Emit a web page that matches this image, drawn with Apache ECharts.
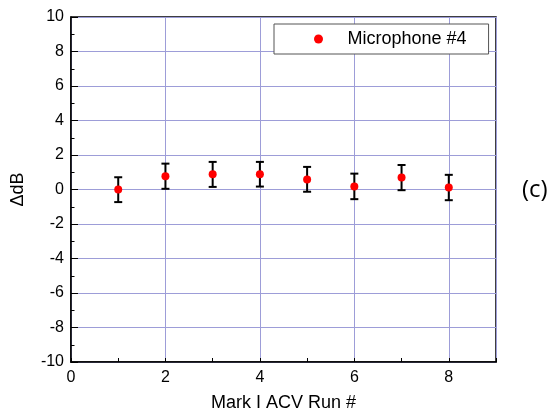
<!DOCTYPE html>
<html>
<head>
<meta charset="utf-8">
<script src="https://cdn.jsdelivr.net/npm/echarts@6/dist/echarts.min.js"></script>
<style>
  html, body { margin: 0; padding: 0; background: #fff; }
  #chart { width: 549px; height: 415px; }
</style>
</head>
<body>
<div id="chart"></div>
<script>
// 数据：运行编号、ΔdB 平均值、误差上下限
const runs = [1, 2, 3, 4, 5, 6, 7, 8];
const deltaDb = [0.0, 0.77, 0.88, 0.88, 0.58, 0.17, 0.69, 0.12];
const errLow = [-0.73, 0.04, 0.15, 0.17, -0.13, -0.56, -0.04, -0.62];
const errHigh = [0.71, 1.50, 1.60, 1.60, 1.31, 0.92, 1.42, 0.85];
const seriesName = 'Microphone #4';

const chart = echarts.init(document.getElementById('chart'));

const font = 'Liberation Sans, Arial, sans-serif';
const gridColor = '#9d9dd8';

const scatterData = runs.map((r, i) => [r, deltaDb[i]]);
const errData = runs.map((r, i) => [r, errLow[i], errHigh[i]]);

const option = {
  animation: false,
  backgroundColor: '#ffffff',
  grid: {
    left: 71, right: 53, top: 17, bottom: 53,
    outerBoundsMode: 'none',
    show: true,
    borderColor: '#000',
    borderWidth: 1.5,
    backgroundColor: 'transparent'
  },
  legend: {
    data: [seriesName],
    left: 274,
    top: 24,
    padding: [6, 22, 6, 40],
    itemWidth: 48,
    itemHeight: 9,
    backgroundColor: '#fff',
    borderColor: '#555',
    borderWidth: 1,
    textStyle: { fontFamily: font, fontSize: 18, color: '#000' }
  },
  xAxis: [{
    type: 'value',
    min: 0, max: 9, interval: 1,
    name: 'Mark I ACV Run #',
    nameLocation: 'middle',
    nameGap: 32,
    nameTextStyle: { fontFamily: font, fontSize: 18, color: '#000' },
    axisLine: { onZero: false, lineStyle: { color: '#000', width: 1.5 } },
    axisTick: { inside: true, length: 4, lineStyle: { color: '#000', width: 1 } },
    axisLabel: {
      fontFamily: font, fontSize: 16, color: '#000', margin: 8,
      formatter: v => (v % 2 === 0 ? String(v) : '')
    },
    splitLine: { show: false }
  }, {
    // 只用来画竖向网格线
    type: 'value',
    position: 'bottom',
    min: 0, max: 9, interval: 2,
    axisLine: { show: false, onZero: false },
    axisTick: { show: false },
    axisLabel: { show: false },
    splitLine: { show: true, lineStyle: { color: gridColor, width: 1 } }
  }],
  yAxis: {
    type: 'value',
    min: -10, max: 10, interval: 2,
    name: 'ΔdB',
    nameLocation: 'middle',
    nameGap: 44,
    nameTextStyle: { fontFamily: font, fontSize: 18, color: '#000' },
    axisLine: { onZero: false, lineStyle: { color: '#000', width: 1.5 } },
    axisTick: { inside: true, length: 7, lineStyle: { color: '#000', width: 1 } },
    minorTick: { show: true, splitNumber: 2, length: 3.5, lineStyle: { color: '#000', width: 1 } },
    axisLabel: { fontFamily: font, fontSize: 16, color: '#000', margin: 7 },
    splitLine: { show: true, lineStyle: { color: gridColor, width: 1 } }
  },
  series: [{
    name: 'err',
    type: 'custom',
    xAxisIndex: 0,
    data: errData,
    z: 3,
    renderItem: (params, api) => {
      const x = api.value(0);
      const lo = api.coord([x, api.value(1)]);
      const hi = api.coord([x, api.value(2)]);
      const half = 4;
      const style = { stroke: '#000', lineWidth: 2 };
      return {
        type: 'group',
        children: [
          { type: 'line', shape: { x1: lo[0], y1: lo[1], x2: hi[0], y2: hi[1] }, style },
          { type: 'line', shape: { x1: hi[0] - half, y1: hi[1], x2: hi[0] + half, y2: hi[1] }, style },
          { type: 'line', shape: { x1: lo[0] - half, y1: lo[1], x2: lo[0] + half, y2: lo[1] }, style }
        ]
      };
    }
  }, {
    name: seriesName,
    type: 'scatter',
    xAxisIndex: 0,
    data: scatterData,
    symbol: 'circle',
    symbolSize: 8,
    z: 4,
    itemStyle: { color: '#ff0000', opacity: 1 }
  }],
  graphic: [{
    type: 'text',
    left: 522,
    top: 178,
    style: { text: '(c)', fontFamily: 'Open Sans, Noto Sans, sans-serif', fontSize: 24, fill: '#000' }
  }]
};

chart.setOption(option);
</script>
</body>
</html>
